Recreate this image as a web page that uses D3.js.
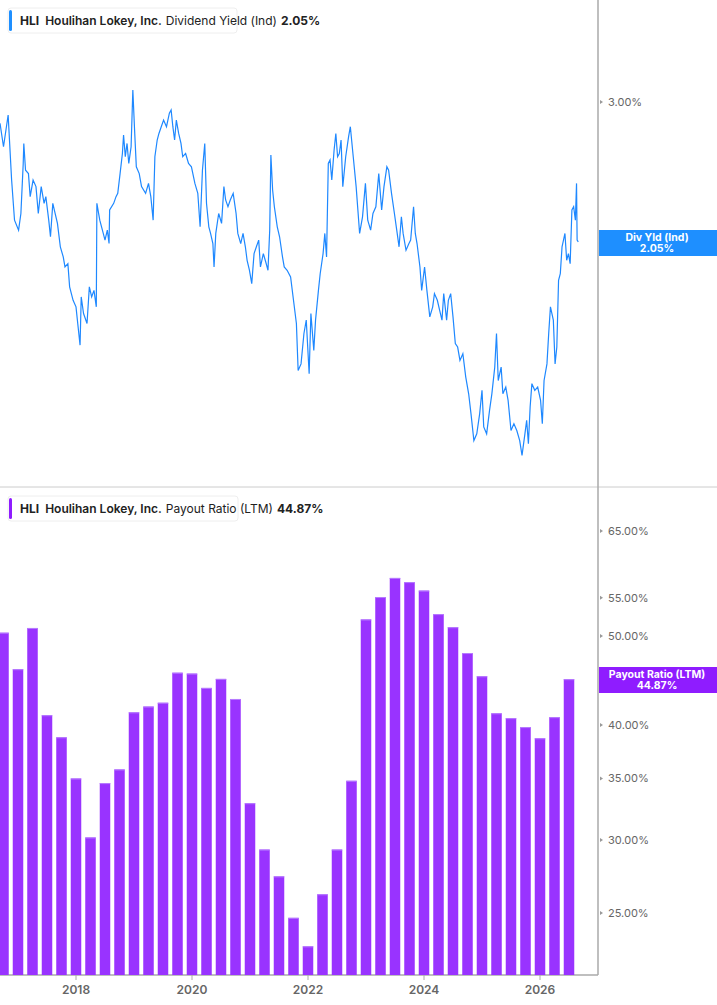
<!DOCTYPE html>
<html><head><meta charset="utf-8">
<script src="https://cdn.jsdelivr.net/npm/d3@7"></script>
<style>body{margin:0;background:#fff;font-family:Inter,"Open Sans",sans-serif}</style>
</head><body><svg id="c" width="717" height="1005"></svg>
<script>
const yieldSeries = [
[2016.69,2.831],[2016.75,2.656],[2016.83,2.896],[2016.89,2.426],[2016.94,2.175],[2017.01,2.117],[2017.05,2.215],[2017.09,2.538],[2017.10,2.680],[2017.13,2.492],[2017.18,2.469],[2017.21,2.319],[2017.26,2.426],[2017.31,2.383],[2017.35,2.215],[2017.40,2.383],[2017.45,2.277],[2017.48,2.319],[2017.53,2.175],[2017.56,2.079],[2017.60,2.277],[2017.64,2.215],[2017.68,2.156],[2017.73,2.023],[2017.78,1.968],[2017.81,1.915],[2017.86,1.932],[2017.89,1.814],[2017.95,1.749],[2018.00,1.718],[2018.03,1.642],[2018.07,1.548],[2018.09,1.765],[2018.13,1.687],[2018.19,1.642],[2018.23,1.814],[2018.27,1.765],[2018.31,1.797],[2018.35,1.718],[2018.36,2.277],[2018.41,2.175],[2018.47,2.098],[2018.50,2.060],[2018.54,2.117],[2018.57,2.041],[2018.58,2.236],[2018.65,2.277],[2018.69,2.319],[2018.72,2.340],[2018.76,2.469],[2018.80,2.608],[2018.82,2.742],[2018.85,2.585],[2018.88,2.680],[2018.91,2.538],[2018.95,2.656],[2018.98,3.10],[2019.01,2.780],[2019.04,2.515],[2019.09,2.469],[2019.13,2.383],[2019.20,2.340],[2019.25,2.404],[2019.29,2.319],[2019.33,2.175],[2019.36,2.585],[2019.40,2.705],[2019.43,2.754],[2019.47,2.805],[2019.51,2.856],[2019.56,2.805],[2019.61,2.910],[2019.64,2.935],[2019.67,2.805],[2019.70,2.705],[2019.73,2.856],[2019.77,2.754],[2019.81,2.680],[2019.84,2.585],[2019.89,2.608],[2019.94,2.538],[2019.99,2.515],[2020.05,2.404],[2020.10,2.340],[2020.14,2.136],[2020.18,2.492],[2020.22,2.680],[2020.25,2.277],[2020.29,2.136],[2020.32,2.098],[2020.36,2.041],[2020.38,1.915],[2020.41,2.098],[2020.46,2.215],[2020.51,2.156],[2020.55,2.383],[2020.58,2.298],[2020.62,2.256],[2020.66,2.298],[2020.71,2.340],[2020.76,2.215],[2020.79,2.098],[2020.84,2.041],[2020.88,2.098],[2020.92,2.023],[2020.95,1.950],[2020.99,1.898],[2021.03,1.830],[2021.07,1.986],[2021.11,2.023],[2021.15,2.060],[2021.18,1.915],[2021.23,1.986],[2021.28,1.932],[2021.31,1.898],[2021.34,2.117],[2021.36,2.597],[2021.39,2.361],[2021.42,2.256],[2021.47,2.136],[2021.51,2.079],[2021.56,1.968],[2021.59,1.915],[2021.64,1.898],[2021.70,1.864],[2021.75,1.749],[2021.80,1.642],[2021.83,1.445],[2021.88,1.471],[2021.93,1.598],[2021.97,1.657],[2022.02,1.432],[2022.05,1.687],[2022.10,1.526],[2022.13,1.657],[2022.18,1.797],[2022.21,1.880],[2022.26,1.986],[2022.29,2.098],[2022.32,1.968],[2022.35,2.538],[2022.38,2.562],[2022.41,2.426],[2022.45,2.632],[2022.48,2.754],[2022.51,2.585],[2022.54,2.608],[2022.57,2.705],[2022.60,2.383],[2022.65,2.585],[2022.70,2.730],[2022.73,2.805],[2022.78,2.585],[2022.83,2.383],[2022.86,2.236],[2022.89,2.098],[2022.94,2.195],[2022.99,2.404],[2023.03,2.175],[2023.08,2.117],[2023.12,2.215],[2023.17,2.256],[2023.22,2.469],[2023.27,2.236],[2023.31,2.383],[2023.36,2.515],[2023.39,2.492],[2023.44,2.340],[2023.49,2.215],[2023.53,2.117],[2023.57,2.023],[2023.61,2.195],[2023.64,2.098],[2023.69,2.004],[2023.74,2.041],[2023.77,2.060],[2023.82,2.256],[2023.85,2.098],[2023.88,2.041],[2023.93,1.915],[2023.96,1.797],[2024.01,1.915],[2024.05,1.797],[2024.10,1.672],[2024.15,1.718],[2024.18,1.781],[2024.23,1.749],[2024.27,1.702],[2024.31,1.657],[2024.34,1.781],[2024.39,1.657],[2024.42,1.749],[2024.46,1.781],[2024.50,1.672],[2024.54,1.555],[2024.58,1.540],[2024.62,1.485],[2024.67,1.512],[2024.72,1.419],[2024.77,1.356],[2024.81,1.285],[2024.86,1.194],[2024.91,1.216],[2024.96,1.285],[2025.00,1.369],[2025.03,1.239],[2025.08,1.216],[2025.13,1.296],[2025.17,1.356],[2025.22,1.458],[2025.25,1.598],[2025.28,1.406],[2025.33,1.458],[2025.36,1.356],[2025.41,1.381],[2025.45,1.332],[2025.50,1.227],[2025.55,1.250],[2025.60,1.227],[2025.65,1.194],[2025.69,1.147],[2025.74,1.216],[2025.77,1.262],[2025.80,1.184],[2025.83,1.308],[2025.86,1.394],[2025.91,1.369],[2025.96,1.381],[2026.01,1.332],[2026.04,1.250],[2026.07,1.406],[2026.12,1.471],[2026.15,1.598],[2026.18,1.718],[2026.23,1.657],[2026.26,1.471],[2026.29,1.540],[2026.32,1.847],[2026.35,1.880],[2026.38,2.023],[2026.43,2.098],[2026.46,1.950],[2026.49,1.986],[2026.52,1.932],[2026.55,2.236],[2026.58,2.256],[2026.61,2.175],[2026.63,2.404],[2026.64,2.060],[2026.66,2.05]
];
const payoutQuarters = [2016.75,2017,2017.25,2017.5,2017.75,2018,2018.25,2018.5,2018.75,2019,2019.25,2019.5,2019.75,2020,2020.25,2020.5,2020.75,2021,2021.25,2021.5,2021.75,2022,2022.25,2022.5,2022.75,2023,2023.25,2023.5,2023.75,2024,2024.25,2024.5,2024.75,2025,2025.25,2025.5,2025.75,2026,2026.25,2026.5];
const payoutValues = [50.4,46.0,51.0,41.0,38.8,35.0,30.2,34.6,35.8,41.3,41.9,42.3,45.6,45.5,43.9,44.9,42.7,32.9,29.3,27.4,24.7,23.0,26.2,29.3,34.8,52.1,55.1,57.8,57.2,56.0,52.8,51.1,47.9,45.2,41.2,40.7,39.8,38.7,40.8,44.87];
const yearTicks = [2018,2020,2022,2024,2026];
const yieldTicks = [2,3];
const payoutTicks = [25,30,35,40,50,55,65];

const svg = d3.select("#c");
const AX = 598;
const x = d3.scaleLinear().domain([2018,2026]).range([76,540]);
const yTop = d3.scaleLog().domain([2,3]).range([251,102]);
const yBot = d3.scaleLog().domain([25,65]).range([913,531]);
const axisCol = "#aaa", tickCol = "#666";

svg.append("line").attr("x1",0).attr("x2",717).attr("y1",487).attr("y2",487).attr("stroke","#ccc");
svg.append("line").attr("x1",AX).attr("x2",AX).attr("y1",0).attr("y2",975).attr("stroke",axisCol).attr("stroke-width",1.5);
svg.append("line").attr("x1",0).attr("x2",AX).attr("y1",975).attr("y2",975).attr("stroke",axisCol).attr("stroke-width",1.5);

svg.append("path").datum(yieldSeries)
  .attr("d",d3.line().x(d=>x(d[0])).y(d=>yTop(d[1])))
  .attr("fill","none").attr("stroke","#1e88ff").attr("stroke-width",1.2);

const bw = 10.5;
svg.append("g").selectAll("rect").data(payoutQuarters).join("rect")
  .attr("x",(d)=>x(d)-bw/2).attr("width",bw)
  .attr("y",(d,i)=>yBot(payoutValues[i])).attr("height",(d,i)=>975-yBot(payoutValues[i]))
  .attr("fill","#9933ff");
svg.append("g").selectAll("line").data(payoutQuarters).join("line")
  .attr("x1",d=>x(d)-bw/2).attr("x2",d=>x(d)+bw/2)
  .attr("y1",(d,i)=>yBot(payoutValues[i])+0.5).attr("y2",(d,i)=>yBot(payoutValues[i])+0.5)
  .attr("stroke","#b77dff");

function rightAxis(scale,ticks){
  const g = svg.append("g").attr("transform",`translate(${AX},0)`);
  g.selectAll("text").data(ticks).join("text").attr("x",10).attr("y",d=>scale(d)+4)
    .attr("font-size",11).attr("fill",tickCol).text(d=>d3.format(".2f")(d)+"%");
  g.selectAll("path").data(ticks).join("path").attr("d",d=>`M2,${scale(d)-2}L5,${scale(d)}L2,${scale(d)+2}Z`).attr("fill","#999");
}
rightAxis(yTop,yieldTicks);
rightAxis(yBot,payoutTicks);
const bx = svg.append("g");
bx.selectAll("line").data(yearTicks).join("line").attr("x1",d=>x(d)).attr("x2",d=>x(d)).attr("y1",975).attr("y2",980).attr("stroke",axisCol);
bx.selectAll("text").data(yearTicks).join("text").attr("x",d=>x(d)).attr("y",994).attr("text-anchor","middle")
  .attr("font-size",12).attr("font-weight",600).attr("fill",tickCol).text(d=>d);

function tag(y0,col,l1,l2){
  svg.append("rect").attr("x",AX+1).attr("y",y0).attr("width",717-AX).attr("height",26).attr("fill",col);
  svg.append("text").attr("x",657).attr("y",y0+11).attr("text-anchor","middle").attr("font-size",10.5).attr("font-weight",700).attr("fill","#fff").text(l1);
  svg.append("text").attr("x",657).attr("y",y0+22).attr("text-anchor","middle").attr("font-size",10.5).attr("font-weight",700).attr("fill","#fff").text(l2);
}
tag(230,"#1e8fff","Div Yld (Ind)","2.05%");
tag(667,"#8f1cff","Payout Ratio (LTM)","44.87%");

function legend(y0,col,metric,val,w){
  svg.append("rect").attr("x",8).attr("y",y0).attr("width",w).attr("height",25).attr("rx",3).attr("fill","#fff").attr("stroke","#eee");
  svg.append("rect").attr("x",9).attr("y",y0+2).attr("width",3).attr("height",21).attr("rx",1.5).attr("fill",col);
  const t = svg.append("text").attr("x",20).attr("y",y0+17).attr("font-size",12).attr("fill","#222");
  t.append("tspan").attr("font-weight",700).text("HLI");
  t.append("tspan").attr("dx",6).attr("font-weight",600).text("Houlihan Lokey, Inc.");
  t.append("tspan").attr("dx",4).text(metric);
  t.append("tspan").attr("dx",4).attr("font-weight",700).text(val);
}
legend(8,"#1e8fff","Dividend Yield (Ind)","2.05%",229);
legend(496,"#8f1cff","Payout Ratio (LTM)","44.87%",230);
</script></body></html>
